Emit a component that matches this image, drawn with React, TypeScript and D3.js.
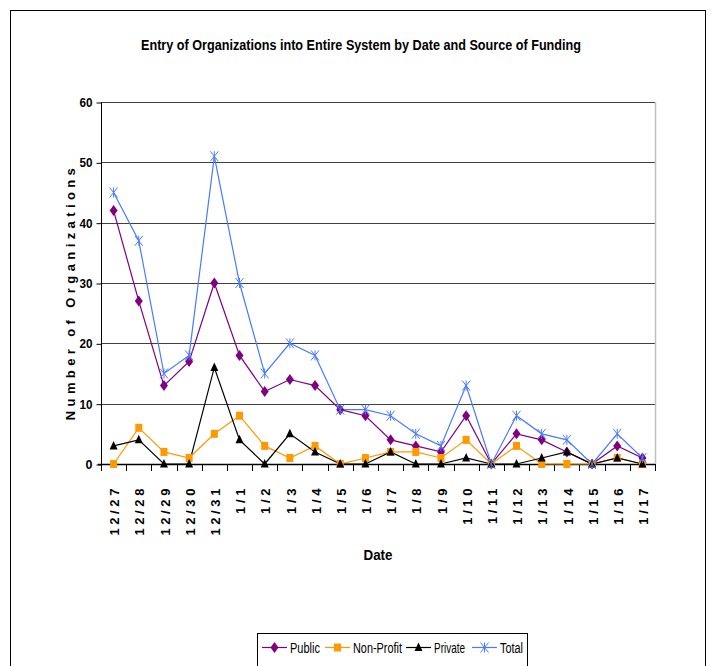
import React, { useEffect, useRef } from "react";
import * as d3 from "d3";

const dates = ["12/27", "12/28", "12/29", "12/30", "12/31", "1/1", "1/2", "1/3", "1/4", "1/5", "1/6", "1/7", "1/8", "1/9", "1/10", "1/11", "1/12", "1/13", "1/14", "1/15", "1/16", "1/17"];
const publicVals = [42, 27, 13, 17, 30, 18, 12, 14, 13, 9, 8, 4, 3, 2, 8, 0, 5, 4, 2, 0, 3, 1];
const nonProfitVals = [0, 6, 2, 1, 5, 8, 3, 1, 3, 0, 1, 2, 2, 1, 4, 0, 3, 0, 0, 0, 1, 0];
const privateVals = [3, 4, 0, 0, 16, 4, 0, 5, 2, 0, 0, 2, 0, 0, 1, 0, 0, 1, 2, 0, 1, 0];
const totalVals = [45, 37, 15, 18, 51, 30, 15, 20, 18, 9, 9, 8, 5, 3, 13, 0, 8, 5, 4, 0, 5, 1];
const yTicks = [0, 10, 20, 30, 40, 50, 60];

const font = "'Liberation Sans', Arial, sans-serif";

const series = [
  { name: "Public", values: publicVals, color: "#800080", marker: "diamond" },
  { name: "Non-Profit", values: nonProfitVals, color: "#FF9900", marker: "square" },
  { name: "Private", values: privateVals, color: "#000000", marker: "triangle" },
  { name: "Total", values: totalVals, color: "#4A7BFF", marker: "star" },
];

function drawMarker(g: any, kind: string, cx: number, cy: number, color: string) {
  if (kind === "diamond") {
    g.append("path").attr("d", `M${cx},${cy - 5.5}L${cx + 4},${cy}L${cx},${cy + 5.5}L${cx - 4},${cy}Z`).attr("fill", color);
  } else if (kind === "square") {
    g.append("rect").attr("x", cx - 3.5).attr("y", cy - 4).attr("width", 7).attr("height", 8).attr("fill", color);
  } else if (kind === "triangle") {
    g.append("path").attr("d", `M${cx},${cy - 5}L${cx + 4},${cy + 3.5}L${cx - 4},${cy + 3.5}Z`).attr("fill", color);
  } else {
    g.append("path")
      .attr("d", `M${cx - 4},${cy - 5}L${cx + 4},${cy + 5}M${cx + 4},${cy - 5}L${cx - 4},${cy + 5}M${cx},${cy - 5}L${cx},${cy + 5}`)
      .attr("stroke", color).attr("stroke-width", 1).attr("fill", "none");
  }
}

export default function App() {
  const ref = useRef<SVGSVGElement | null>(null);

  useEffect(() => {
    const svg = d3.select(ref.current);
    svg.selectAll("*").remove();

    const left = 101, right = 655, top = 102, bottom = 464;
    const x = d3.scaleBand<string>().domain(dates).range([left, right]);
    const y = d3.scaleLinear().domain([0, 60]).range([bottom, top]);
    const cx = (d: string) => (x(d) as number) + x.bandwidth() / 2;

    // outer frame
    svg.append("rect").attr("x", 10.5).attr("y", 10.5).attr("width", 695).attr("height", 670)
      .attr("fill", "white").attr("stroke", "#000").attr("stroke-width", 1);

    svg.append("text").attr("x", 361).attr("y", 50).attr("text-anchor", "middle")
      .attr("font-family", font).attr("font-weight", "bold").attr("font-size", 15)
      .attr("textLength", 440).attr("lengthAdjust", "spacingAndGlyphs")
      .text("Entry of Organizations into Entire System by Date and Source of Funding");

    // gridlines
    svg.append("g").selectAll("line").data(yTicks.filter(t => t > 0)).enter().append("line")
      .attr("x1", left).attr("x2", right).attr("y1", d => Math.round(y(d)) + 0.5).attr("y2", d => Math.round(y(d)) + 0.5)
      .attr("stroke", "#404040").attr("stroke-width", 1);
    // right plot border
    svg.append("line").attr("x1", right + 0.5).attr("x2", right + 0.5).attr("y1", top).attr("y2", bottom)
      .attr("stroke", "#c0c0c0").attr("stroke-width", 1.5);

    // y axis
    const ya = svg.append("g").attr("transform", `translate(${left + 0.5},0.5)`)
      .call(d3.axisLeft(y).tickValues(yTicks).tickSize(5).tickPadding(4).tickFormat(d3.format("d")));
    ya.select(".domain").remove();
    ya.append("line").attr("x1", 0).attr("x2", 0).attr("y1", top).attr("y2", bottom).attr("stroke", "#000");
    ya.selectAll(".tick line").attr("stroke", "#000");
    ya.selectAll(".tick text").attr("font-family", font).attr("font-weight", "bold").attr("font-size", 12.5)
      .attr("fill", "#000");
    ya.selectAll(".tick text").filter((d: any) => d >= 10)
      .attr("textLength", 13).attr("lengthAdjust", "spacingAndGlyphs");

    // x axis
    const xa = svg.append("g");
    xa.append("line").attr("x1", left - 3).attr("x2", right).attr("y1", bottom + 0.5).attr("y2", bottom + 0.5)
      .attr("stroke", "#000").attr("stroke-width", 1.5);
    const bounds = dates.map(d => x(d) as number).concat([right]);
    xa.selectAll("line.tk").data(bounds).enter().append("line").attr("class", "tk")
      .attr("x1", d => Math.round(d) + 0.5).attr("x2", d => Math.round(d) + 0.5)
      .attr("y1", bottom).attr("y2", bottom + 7).attr("stroke", "#000");
    xa.selectAll("text").data(dates).enter().append("text")
      .attr("transform", d => `translate(${cx(d) + 1},${bottom + 21}) rotate(-90)`)
      .attr("text-anchor", "end").attr("dy", "0.36em")
      .attr("font-family", font).attr("font-weight", "bold").attr("font-size", 13)
      .attr("letter-spacing", 3.6)
      .text(d => d);

    svg.append("text").attr("x", 378).attr("y", 560).attr("text-anchor", "middle")
      .attr("font-family", font).attr("font-weight", "bold").attr("font-size", 15)
      .attr("textLength", 29).attr("lengthAdjust", "spacingAndGlyphs").text("Date");

    svg.append("text").attr("transform", `translate(75,${(top + bottom) / 2 + 9}) rotate(-90)`)
      .attr("text-anchor", "middle").attr("font-family", font).attr("font-weight", "bold").attr("font-size", 13)
      .attr("letter-spacing", 4.4).text("Number of Organizations");

    // series
    const plot = svg.append("g");
    series.forEach(s => {
      const pts = dates.map((d, i) => [cx(d), y(s.values[i])] as [number, number]);
      plot.append("path").attr("d", d3.line()(pts) as string).attr("fill", "none")
        .attr("stroke", s.color).attr("stroke-width", 1.2);
    });
    series.forEach(s => {
      dates.forEach((d, i) => drawMarker(plot, s.marker, cx(d), y(s.values[i]), s.color));
    });

    // legend
    const lg = svg.append("g");
    lg.append("rect").attr("x", 257.5).attr("y", 633.5).attr("width", 270).attr("height", 40)
      .attr("fill", "white").attr("stroke", "#000");
    const legendX = [262, 325, 406, 472];
    const legendW = [30, 49, 31, 23];
    series.forEach((s, i) => {
      const lx = legendX[i];
      lg.append("line").attr("x1", lx).attr("x2", lx + 25).attr("y1", 647.5).attr("y2", 647.5)
        .attr("stroke", s.color).attr("stroke-width", 1.2);
      drawMarker(lg, s.marker, lx + 12.5, 647.5, s.color);
      lg.append("text").attr("x", lx + 28).attr("y", 653).attr("font-family", font)
        .attr("font-size", 14).attr("textLength", legendW[i]).attr("lengthAdjust", "spacingAndGlyphs").text(s.name);
    });
  }, []);

  return (
    <div style={{ position: "absolute", left: 0, top: 0 }}>
      <svg ref={ref} width={712} height={666} style={{ display: "block" }} />
    </div>
  );
}
